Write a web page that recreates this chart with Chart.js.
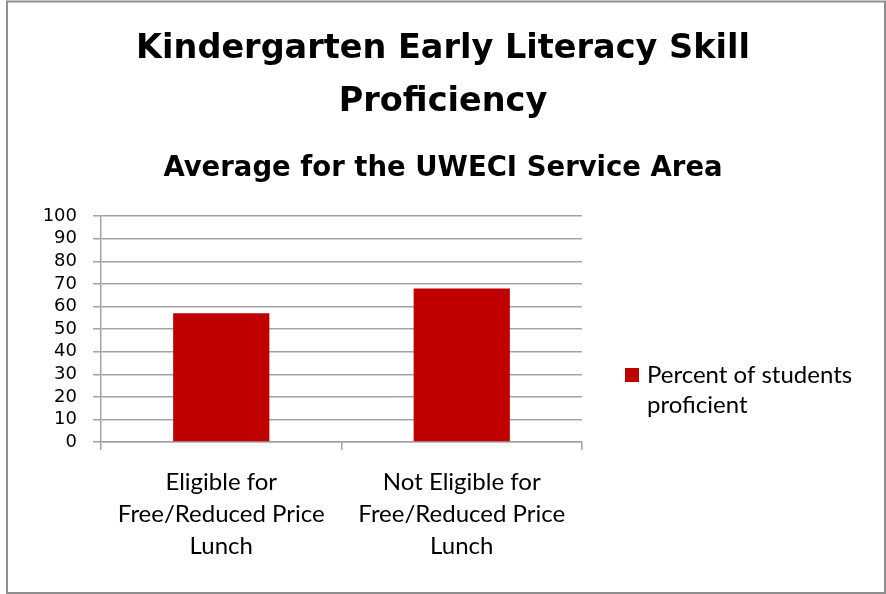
<!DOCTYPE html>
<html>
<head>
<meta charset="utf-8">
<script src="https://cdn.jsdelivr.net/npm/chart.js@4.4.1/dist/chart.umd.min.js"></script>
<style>
  html, body { margin: 0; padding: 0; background: #ffffff; }
  #wrap { position: relative; width: 886px; height: 594px; }
  canvas { display: block; }
</style>
</head>
<body>
<div id="wrap"><canvas id="c" width="886" height="594"></canvas></div>
<script>
const categories = [
  ['Eligible for', 'Free/Reduced Price', 'Lunch'],
  ['Not Eligible for', 'Free/Reduced Price', 'Lunch']
];
const seriesName = 'Percent of students proficient';
const seriesLegendLines = ['Percent of students', 'proficient'];
const percentProficient = [57, 68];
const yTicks = [0, 10, 20, 30, 40, 50, 60, 70, 80, 90, 100];
const titleLines = ['Kindergarten Early Literacy Skill', 'Proficiency'];
const subtitleText = 'Average for the UWECI Service Area';

const BAR_COLOR = '#C00000';
const GRID_COLOR = '#A3A3A3';
const FONT = 'Lato, "Open Sans", sans-serif';
const TITLE_FONT = '"DejaVu Sans", sans-serif';

const frame = {
  id: 'frame',
  beforeDraw(chart) {
    const ctx = chart.ctx;
    ctx.save();
    ctx.fillStyle = '#ffffff';
    ctx.fillRect(0, 0, chart.width, chart.height);
    ctx.strokeStyle = '#8E8E8E';
    ctx.lineWidth = 2;
    ctx.strokeRect(7, 1.5, chart.width - 8, chart.height - 2.5);
    ctx.restore();
  }
};

const sideLegend = {
  id: 'sideLegend',
  afterDraw(chart) {
    const ctx = chart.ctx;
    const ds = chart.data.datasets[0];
    const x0 = chart.chartArea.right + 43;
    const y0 = 368;
    ctx.save();
    ctx.fillStyle = ds.backgroundColor;
    ctx.fillRect(x0, y0, 14, 14);
    ctx.fillStyle = '#000000';
    ctx.font = '24px ' + FONT;
    ctx.textBaseline = 'alphabetic';
    ctx.textAlign = 'left';
    seriesLegendLines.forEach((line, i) => {
      ctx.fillText(line, x0 + 22, y0 + 15 + i * 30);
    });
    ctx.restore();
  }
};

new Chart(document.getElementById('c'), {
  type: 'bar',
  data: {
    labels: categories,
    datasets: [{
      label: seriesName,
      data: percentProficient,
      backgroundColor: BAR_COLOR,
      borderWidth: 0,
      barPercentage: 0.4,
      categoryPercentage: 1.0,
      yAxisID: 'y'
    }]
  },
  options: {
    responsive: false,
    animation: false,
    events: [],
    layout: { padding: { left: 0, right: 0, top: 0, bottom: 0 } },
    plugins: {
      legend: { display: false },
      tooltip: { enabled: false },
      title: {
        display: true,
        text: titleLines,
        color: '#000000',
        font: { family: TITLE_FONT, size: 33.5, weight: 'bold', lineHeight: 1.57 },
        padding: { top: 23, bottom: 0 }
      },
      subtitle: {
        display: true,
        text: subtitleText,
        color: '#000000',
        font: { family: TITLE_FONT, size: 27.5, weight: 'bold', lineHeight: 1.2 },
        padding: { top: 24, bottom: 31 }
      }
    },
    scales: {
      x: {
        grid: {
          display: true,
          offset: true,
          drawOnChartArea: false,
          drawTicks: true,
          tickLength: 8,
          color: GRID_COLOR,
          lineWidth: 1.5
        },
        border: { display: true, color: GRID_COLOR, width: 1.5 },
        ticks: {
          color: '#000000',
          font: { family: FONT, size: 24, lineHeight: 1.333 },
          padding: 16,
          maxRotation: 0,
          autoSkip: false
        },
        afterFit(scale) { scale.height = 152; }
      },
      y: {
        min: 0,
        max: 100,
        afterBuildTicks(scale) { scale.ticks = yTicks.map(v => ({ value: v })); },
        grid: {
          color: GRID_COLOR,
          lineWidth: 1.5,
          drawTicks: true,
          tickLength: 8
        },
        border: { display: true, color: GRID_COLOR, width: 1.5 },
        ticks: {
          color: '#000000',
          font: { family: '"DejaVu Sans", sans-serif', size: 18 },
          padding: 16,
          autoSkip: false
        },
        afterFit(scale) { scale.width = 101; }
      },
      legendSpace: {
        type: 'linear',
        position: 'right',
        display: true,
        grid: { display: false, drawTicks: false },
        border: { display: false },
        ticks: { display: false },
        afterFit(scale) { scale.width = 304; }
      }
    }
  },
  plugins: [frame, sideLegend]
});
</script>
</body>
</html>
